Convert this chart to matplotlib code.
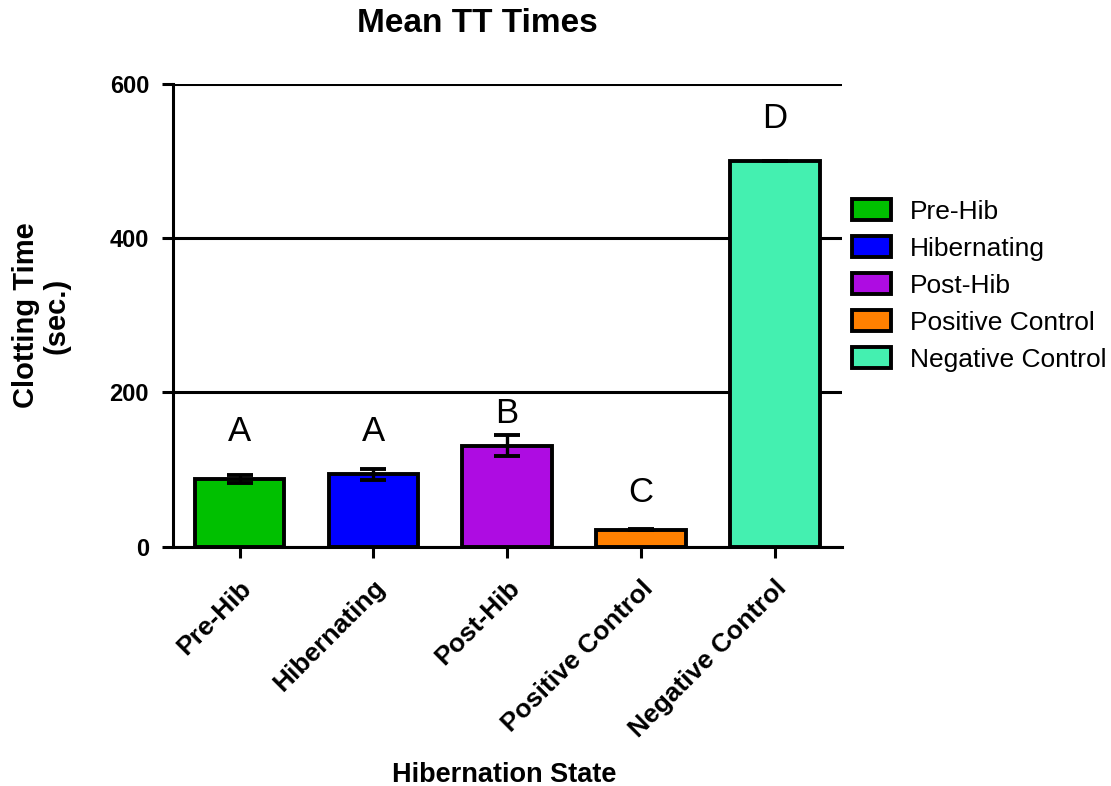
import numpy as np
import matplotlib
matplotlib.use("Agg")
import matplotlib.pyplot as plt

# ---- DATA ----
categories = ["Pre-Hib", "Hibernating", "Post-Hib", "Positive Control", "Negative Control"]
mean_times = [88, 94, 131, 22, 500]
sem_times = [5, 7, 14, 1, 0]
letters = ["A", "A", "B", "C", "D"]
letter_y = [149, 149, 173, 70, 555]
colors = ["#00C000", "#0000FF", "#AE0CE2", "#FF8000", "#44F0B0"]

plt.rcParams["font.family"] = ["Liberation Sans", "DejaVu Sans"]

# ---- PLOT ----
fig = plt.figure(figsize=(11.11, 7.86), dpi=100)
ax = fig.add_axes([0.1554, 0.3045, 0.6022, 0.5885])

x = np.arange(len(categories))
bars = ax.bar(x, mean_times, width=0.67, color=colors, edgecolor="black",
              linewidth=2.8, zorder=2)
ax.errorbar(x, mean_times, yerr=sem_times, fmt="none", ecolor="black",
            elinewidth=2.4, capsize=9.5, capthick=2.8, zorder=3)

for xi, lt, ly in zip(x, letters, letter_y):
    ax.text(xi, ly, lt, ha="center", va="center", fontsize=25)

ax.set_xlim(-0.5, 4.5)
ax.set_ylim(0, 600)
ax.set_yticks([0, 200, 400, 600])
ax.yaxis.grid(True, color="black", linewidth=2.2)
ax.set_axisbelow(True)

for side in ["top", "right"]:
    ax.spines[side].set_visible(False)
for side in ["left", "bottom"]:
    ax.spines[side].set_linewidth(2.2)

ax.tick_params(axis="y", direction="out", length=8, width=2.2, labelsize=17, pad=9)
ax.tick_params(axis="x", direction="out", length=8, width=2.2, labelsize=19, pad=13)
for lab in ax.get_yticklabels():
    lab.set_fontweight("bold")
ax.set_xticks(x)
ax.set_xticklabels(categories, rotation=45, ha="right", rotation_mode="anchor",
                   fontweight="bold")

ax.set_ylabel("Clotting Time\n(sec.)", fontsize=21, fontweight="bold",
              linespacing=1.15)
ax.yaxis.set_label_coords(-0.152, 0.5)
ax.set_xlabel("Hibernation State", fontsize=19.5, fontweight="bold")
ax.xaxis.set_label_coords(0.495, -0.465)
ax.set_title("Mean TT Times", fontsize=24, fontweight="bold", x=0.456, y=1.112,
             va="baseline", pad=0)

leg = ax.legend(bars.patches, categories, loc="upper left",
                bbox_to_anchor=(852 / 1111, 1 - 199 / 786),
                bbox_transform=fig.transFigure, frameon=False, fontsize=19,
                borderpad=0, borderaxespad=0, handlelength=1.48,
                handleheight=0.87, handletextpad=0.7, labelspacing=0.46)

plt.savefig("out.png", dpi=100)
